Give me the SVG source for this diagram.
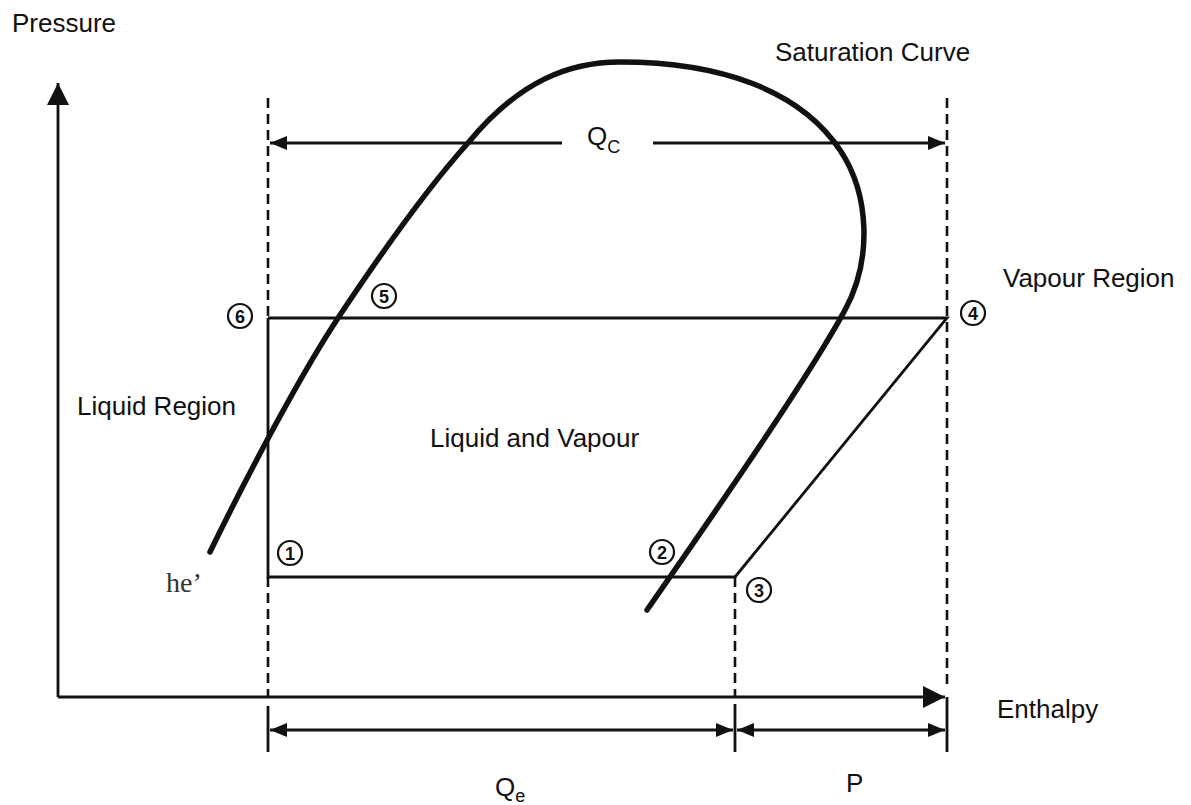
<svg xmlns="http://www.w3.org/2000/svg" width="1191" height="805" viewBox="0 0 1191 805">
<style>
  .lbl { font-family: "Liberation Sans", Arial, sans-serif; font-size: 26px; fill: #111; }
  .sub { font-family: "Liberation Sans", Arial, sans-serif; font-size: 18px; fill: #111; }
  .num { font-family: "Liberation Sans", Arial, sans-serif; font-size: 18px; font-weight: bold; fill: #111; text-anchor: middle; }
  .ring { fill: none; stroke: #111; stroke-width: 2.2; }
  .solid { fill: none; stroke: #111; stroke-width: 2.8; }
  .dash { fill: none; stroke: #111; stroke-width: 2.6; stroke-dasharray: 10 6; }
  .curve { fill: none; stroke: #111; stroke-width: 5.5; stroke-linecap: round; }
</style>
<defs>
  <marker id="ah" viewBox="0 0 17 14" refX="17" refY="7" markerWidth="17" markerHeight="14" markerUnits="userSpaceOnUse" orient="auto-start-reverse">
    <path d="M0,0 L17,7 L0,14 Z" fill="#111"/>
  </marker>
  <marker id="axh" viewBox="0 0 22 22" refX="22" refY="11" markerWidth="22" markerHeight="22" markerUnits="userSpaceOnUse" orient="auto">
    <path d="M0,0 L22,11 L0,22 Z" fill="#111"/>
  </marker>
</defs>
<rect width="1191" height="805" fill="#fff"/>

<g id="connectors">
  <line id="p-axis" class="solid" x1="58" y1="697" x2="58" y2="83" marker-end="url(#axh)"/>
  <line id="h-axis" class="solid" x1="58" y1="697" x2="945" y2="697" marker-end="url(#axh)"/>
  <line class="dash" x1="268" y1="98" x2="268" y2="318"/>
  <line class="dash" x1="268" y1="577" x2="268" y2="697"/>
  <line class="solid" x1="268" y1="706" x2="268" y2="752"/>
  <line class="dash" x1="735" y1="577" x2="735" y2="697"/>
  <line class="solid" x1="735" y1="704" x2="735" y2="752"/>
  <line class="dash" x1="947" y1="98" x2="947" y2="690"/>
  <line class="solid" x1="947" y1="697" x2="947" y2="752"/>
  <line class="solid" x1="562" y1="143" x2="270" y2="143" marker-end="url(#ah)"/>
  <line class="solid" x1="653" y1="143" x2="945" y2="143" marker-end="url(#ah)"/>
  <line class="solid" x1="270" y1="730" x2="733" y2="730" marker-start="url(#ah)" marker-end="url(#ah)"/>
  <line class="solid" x1="737" y1="730" x2="945" y2="730" marker-start="url(#ah)" marker-end="url(#ah)"/>
  <polyline id="cycle" class="solid" points="268,318 947,318 735,577 268,577 268,318"/>
</g>

<g id="saturation-curve">
  <path class="curve" d="M210,552 C245,480 300,375 340,315 C390,240 430,185 468,143 C520,80 570,62 620,62 C720,62 800,90 840,150 C870,195 872,260 845,310 C810,375 720,505 647,610"/>
</g>

<g id="point-1"><circle class="ring" cx="290" cy="553" r="12"/><text class="num" x="290" y="559.5">1</text></g>
<g id="point-2"><circle class="ring" cx="662" cy="552" r="12"/><text class="num" x="662" y="558.5">2</text></g>
<g id="point-3"><circle class="ring" cx="759" cy="590" r="12"/><text class="num" x="759" y="596.5">3</text></g>
<g id="point-4"><circle class="ring" cx="973" cy="313" r="12"/><text class="num" x="973" y="319.5">4</text></g>
<g id="point-5"><circle class="ring" cx="384" cy="296" r="12"/><text class="num" x="384" y="302.5">5</text></g>
<g id="point-6"><circle class="ring" cx="240" cy="316" r="12"/><text class="num" x="240" y="322.5">6</text></g>

<g id="labels">
  <text class="lbl" x="12" y="32">Pressure</text>
  <text class="lbl" x="775" y="61">Saturation Curve</text>
  <text class="lbl" x="1003" y="287">Vapour Region</text>
  <text class="lbl" x="77" y="415">Liquid Region</text>
  <text class="lbl" x="430" y="447">Liquid and Vapour</text>
  <text class="lbl" x="997" y="718">Enthalpy</text>
  <text class="lbl" x="846" y="792">P</text>
  <text class="lbl" x="587" y="145">Q<tspan class="sub" dy="8">C</tspan></text>
  <text class="lbl" x="495" y="796">Q<tspan class="sub" dy="6">e</tspan></text>
  <text x="166" y="592" font-family="'Liberation Serif', 'Times New Roman', serif" font-size="28" fill="#333">he’</text>
</g>
</svg>
